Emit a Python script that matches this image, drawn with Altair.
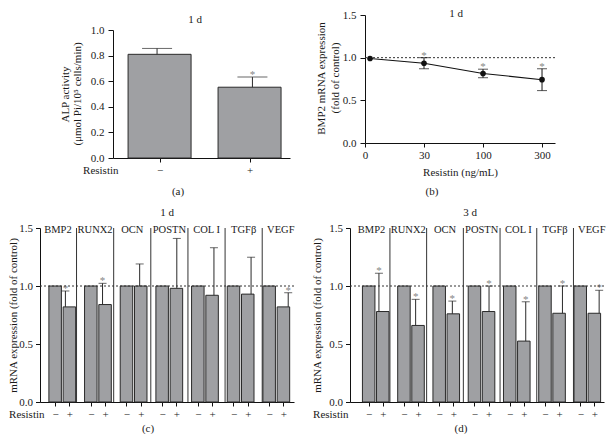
import altair as alt
import pandas as pd

FONT = "Liberation Serif"
BAR_FILL = "#9fa0a3"
EDGE = "#2a2a2a"
STAR = "#858585"
TXT = "#1a1a1a"

# ---------------- data ----------------
# (a) ALP activity, 1 d
a_groups = ["−", "+"]
a_mean = [0.81, 0.553]
a_sd = [0.046, 0.079]
a_sig = [False, True]

# (b) BMP2 mRNA vs resistin dose, 1 d
b_doses = ["0", "30", "100", "300"]
b_mean = [0.99, 0.935, 0.815, 0.742]
b_sd = [0.0, 0.065, 0.05, 0.128]
b_sig = [False, True, True, True]

# (c) / (d) mRNA expression, 1 d and 3 d
genes = ["BMP2", "RUNX2", "OCN", "POSTN", "COL I", "TGFβ", "VEGF"]
c_ctrl = [1.0, 1.0, 1.0, 1.0, 1.0, 1.0, 1.0]
c_mean = [0.82, 0.84, 1.0, 0.98, 0.92, 0.93, 0.82]
c_sd = [0.137, 0.183, 0.19, 0.43, 0.41, 0.318, 0.122]
c_sig = [True, True, False, False, False, False, True]

d_ctrl = [1.0, 1.0, 1.0, 1.0, 1.0, 1.0, 1.0]
d_mean = [0.78, 0.66, 0.76, 0.78, 0.525, 0.765, 0.765]
d_sd = [0.33, 0.225, 0.11, 0.22, 0.339, 0.235, 0.198]
d_sig = [True, True, True, True, True, True, True]

W, H = 598, 426


def sc(domain, rng):
    return alt.Scale(domain=domain, range=rng, nice=False, zero=False)


def y_axis(offset, values, title, tx, ty, tick=5, pad=4):
    return alt.Axis(orient="left", offset=offset, values=values, format=".1f",
                    title=title, titleX=tx, titleY=ty, titleAngle=270,
                    titleAlign="center", titleBaseline="middle",
                    tickSize=tick, labelPadding=pad)


def x_axis(offset, values, label_expr, title, tx, ty, align="right", tick=4):
    return alt.Axis(orient="bottom", offset=offset, values=values, labelExpr=label_expr,
                    title=title, titleX=tx, titleY=ty, titleAngle=0, titleAlign=align,
                    titleBaseline="middle", tickSize=tick, labelPadding=12 - tick,
                    labelBaseline="middle")


def text_label(txt, x, y, size=11, baseline="middle", angle=0):
    return alt.Chart(alt.Data(values=[{}])).mark_text(
        text=txt, font=FONT, fontSize=size, color=TXT, baseline=baseline, align="center",
        angle=angle
    ).encode(x=alt.value(x), y=alt.value(y))


def bar_panel(df, xs, ys, xax, yax, bar_w, cap_w):
    bars = alt.Chart(df).mark_bar(size=bar_w, fill=BAR_FILL, stroke=EDGE, strokeWidth=1,
                                  orient="vertical").encode(
        x=alt.X("pos:Q", scale=xs, axis=xax),
        y=alt.Y("mean:Q", scale=ys, axis=yax))
    err_df = df[df["sd"] > 0]
    err = alt.Chart(err_df).mark_rule(color=EDGE, strokeWidth=1).encode(
        x=alt.X("pos:Q", scale=xs, axis=None),
        y=alt.Y("mean:Q", scale=ys, axis=None), y2="hi:Q")
    cap = alt.Chart(err_df).mark_tick(orient="horizontal", size=cap_w, thickness=1,
                                      color=EDGE).encode(
        x=alt.X("pos:Q", scale=xs, axis=None),
        y=alt.Y("hi:Q", scale=ys, axis=None))
    stars = alt.Chart(df[df["sig"]]).mark_text(text="*", font=FONT, fontSize=11, color=STAR,
                                               baseline="alphabetic", dy=1).encode(
        x=alt.X("pos:Q", scale=xs, axis=None),
        y=alt.Y("hi:Q", scale=ys, axis=None))
    return [bars, err, cap, stars]


# ---------------- panel (a) ----------------
a_off = 0.462
a_xs = sc([0, 1.856], [105, 282])
a_ys = sc([0, 1], [150, 22])
a_df = pd.DataFrame({"grp": a_groups, "mean": a_mean, "sd": a_sd, "sig": a_sig})
a_df["pos"] = [a_off + i for i in range(len(a_groups))]
a_df["hi"] = a_df["mean"] + a_df["sd"]
a_expr = "datum.value < 1 ? '" + a_groups[0] + "' : '" + a_groups[1] + "'"
panel_a = bar_panel(
    a_df, a_xs, a_ys,
    x_axis(150 - H, [float(v) for v in a_df["pos"]], a_expr, "Resistin", 110, 12),
    y_axis(-105, [0, 0.2, 0.4, 0.6, 0.8, 1.0], "ALP activity", -48, 86),
    63, 30)

# ---------------- panel (b) ----------------
b_xs = sc([0, 3.22], [357, 547])
b_ys = sc([0, 1.5], [135, 7])
b_df = pd.DataFrame({"dose": b_doses, "mean": b_mean, "sd": b_sd, "sig": b_sig})
b_df["pos"] = [0.085 if i == 0 else float(i) for i in range(len(b_doses))]
b_df["lo"] = b_df["mean"] - b_df["sd"]
b_df["hi"] = b_df["mean"] + b_df["sd"]
b_ref = pd.DataFrame({"x0": [0.0], "x1": [3.22], "y": [1.0]})

b_dotted = alt.Chart(b_ref).mark_rule(color="#333", strokeWidth=1, strokeDash=[2, 2]).encode(
    x=alt.X("x0:Q", scale=b_xs, axis=None), x2="x1:Q",
    y=alt.Y("y:Q", scale=b_ys, axis=None))
b_line = alt.Chart(b_df).mark_line(color="#111", strokeWidth=1.1).encode(
    x=alt.X("pos:Q", scale=b_xs,
            axis=x_axis(135 - H, [0, 1, 2, 3], str(b_doses) + "[datum.value]",
                        "Resistin (ng/mL)", 452, 29, align="center")),
    y=alt.Y("mean:Q", scale=b_ys,
            axis=y_axis(-357, [0, 0.5, 1.0, 1.5], "BMP2 mRNA expression", -44, 70)))
b_err_df = b_df[b_df["sd"] > 0]
b_err = alt.Chart(b_err_df).mark_rule(color="#111", strokeWidth=1).encode(
    x=alt.X("pos:Q", scale=b_xs, axis=None),
    y=alt.Y("lo:Q", scale=b_ys, axis=None), y2="hi:Q")
b_cap_hi = alt.Chart(b_err_df).mark_tick(orient="horizontal", size=10, thickness=1,
                                         color="#111").encode(
    x=alt.X("pos:Q", scale=b_xs, axis=None), y=alt.Y("hi:Q", scale=b_ys, axis=None))
b_cap_lo = alt.Chart(b_err_df).mark_tick(orient="horizontal", size=10, thickness=1,
                                         color="#111").encode(
    x=alt.X("pos:Q", scale=b_xs, axis=None), y=alt.Y("lo:Q", scale=b_ys, axis=None))
b_pts = alt.Chart(b_df).mark_circle(size=32, color="#111", opacity=1).encode(
    x=alt.X("pos:Q", scale=b_xs, axis=None), y=alt.Y("mean:Q", scale=b_ys, axis=None))
b_stars = alt.Chart(b_df[b_df["sig"]]).mark_text(text="*", font=FONT, fontSize=11, color=STAR,
                                                 baseline="alphabetic", dy=1).encode(
    x=alt.X("pos:Q", scale=b_xs, axis=None), y=alt.Y("hi:Q", scale=b_ys, axis=None))
panel_b = [b_line, b_dotted, b_err, b_cap_hi, b_cap_lo, b_pts, b_stars]


# ---------------- panels (c) and (d) ----------------
def gene_panel(ctrl, mean, sd, sig, off, dom_end, xr, yaxis_off, title_x, res_x):
    rows = []
    for g, gene in enumerate(genes):
        rows.append({"gene": gene, "k": 0, "mean": ctrl[g], "sd": 0.0, "sig": False,
                     "pos": round(off + g * 2.5, 3)})
        rows.append({"gene": gene, "k": 1, "mean": mean[g], "sd": sd[g], "sig": sig[g],
                     "pos": round(off + g * 2.5 + 1, 3)})
    df = pd.DataFrame(rows)
    df["hi"] = df["mean"] + df["sd"]
    xs = sc([0, dom_end], xr)
    ys = sc([0, 1.5], [394, 220])
    expr = ("(round((datum.value - " + str(off) + ") * 10) % 25) == 0 ? '"
            + a_groups[0] + "' : '" + a_groups[1] + "'")
    sep_df = pd.DataFrame({"x": [round(off + g * 2.5 + 1.75, 3) for g in range(len(genes) - 1)],
                           "y0": 0.0, "y1": 1.5})
    lab_df = pd.DataFrame({"gene": genes,
                           "x": [round(off + g * 2.5 + 0.5, 3) for g in range(len(genes))],
                           "y": 1.5})
    ref_df = pd.DataFrame({"x0": [0.0], "x1": [dom_end], "y": [1.0]})
    seps = alt.Chart(sep_df).mark_rule(color="#333", strokeWidth=1).encode(
        x=alt.X("x:Q", scale=xs, axis=None),
        y=alt.Y("y0:Q", scale=ys, axis=None), y2="y1:Q")
    dotted = alt.Chart(ref_df).mark_rule(color="#333", strokeWidth=1, strokeDash=[2, 2]).encode(
        x=alt.X("x0:Q", scale=xs, axis=None), x2="x1:Q",
        y=alt.Y("y:Q", scale=ys, axis=None))
    labs = alt.Chart(lab_df).mark_text(font=FONT, fontSize=10.5, color=TXT,
                                       baseline="middle", dy=2).encode(
        x=alt.X("x:Q", scale=xs, axis=None), y=alt.Y("y:Q", scale=ys, axis=None),
        text="gene:N")
    layers = bar_panel(
        df, xs, ys,
        x_axis(394 - H, [float(v) for v in df["pos"]], expr, "Resistin", res_x, 12),
        y_axis(yaxis_off, [0, 0.5, 1.0, 1.5], "mRNA expression (fold of control)",
               title_x, 307, tick=4.5, pad=3),
        12.5, 8)
    return layers + [seps, dotted, labs]


panel_c = gene_panel(c_ctrl, c_mean, c_sd, c_sig, 0.71, 17.1, [32, 286], -32, -27, 36)
panel_d = gene_panel(d_ctrl, d_mean, d_sd, d_sig, 0.97, 17.3, [342, 596], -342, -33, 340)

labels = [
    text_label("(μmol Pi/10⁵ cells/min)", 70, 86, angle=270),
    text_label("(fold of control)", 328, 70, angle=270),
    text_label("1 d", 187, 12),
    text_label("(a)", 170, 184),
    text_label("1 d", 448, 0, baseline="top"),
    text_label("(b)", 424, 184),
    text_label("1 d", 159, 205),
    text_label("(c)", 140, 421),
    text_label("3 d", 462, 205),
    text_label("(d)", 453, 421),
]

chart = alt.layer(*(panel_a + panel_b + panel_c + panel_d + labels)).resolve_scale(
    x="independent", y="independent"
).resolve_axis(x="independent", y="independent").properties(
    width=W, height=H, autosize=alt.AutoSizeParams(type="none"), padding=0,
    background="white"
).configure_view(stroke=None).configure_axis(
    grid=False, labelFont=FONT, titleFont=FONT, labelFontSize=11, titleFontSize=11,
    titleFontWeight="normal", labelColor=TXT, titleColor=TXT, domainColor="#111",
    tickColor="#111", domainWidth=1, tickWidth=1, labelFlush=False, labelOverlap=False
)

chart.save("out.html", embed_options={"renderer": "svg", "actions": False})
